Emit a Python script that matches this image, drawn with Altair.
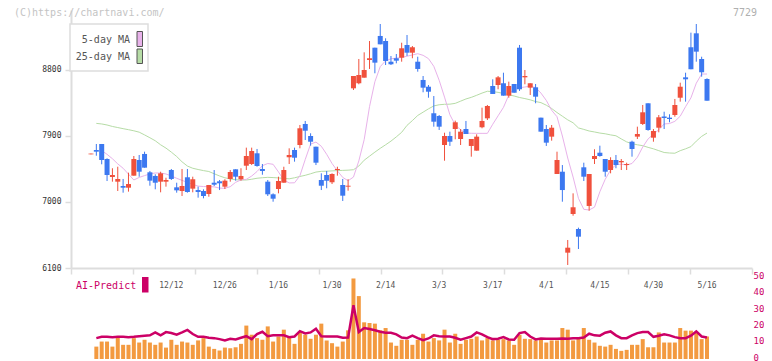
import altair as alt
import pandas as pd

# ---- candles (index 0..115) ----
opens = [7650, 7709, 7791, 7586, 7341, 7277, 7218, 7195, 7359, 7573,
         7655, 7405, 7355, 7277, 7277, 7436, 7200, 7150, 7337, 7182,
         7163, 7150, 7109, 7263, 7282, 7209, 7314, 7446, 7310, 7495,
         7518, 7664, 7450, 7277, 7105, 7177, 7263, 7610, 7709, 7777,
         8064, 7900, 7754, 7300, 7368, 7269, 7436, 7232, 7209, 8550,
         8619, 8695, 8936, 9104, 9264, 9195, 8913, 8960, 8968, 9141,
         9036, 8913, 8664, 8572, 8210, 8173, 7777, 7900, 7995, 7859,
         7995, 7764, 7700, 8019, 8141, 8582, 8595, 8619, 8450, 8609,
         9104, 8700, 8559, 8564, 8150, 7995, 7891, 7382, 7413, 6309,
         6836, 6632, 7473, 6946, 7586, 7672, 7586, 7436, 7573, 7541,
         7504, 7822, 7891, 8064, 8346, 7877, 8013, 8166, 8150, 8186,
         8422, 8700, 9110, 9300, 8950, 8677]
highs = [7660, 7791, 7791, 7596, 7460, 7481, 7314, 7400, 7627, 7641,
         7686, 7423, 7378, 7413, 7331, 7450, 7263, 7450, 7450, 7345,
         7209, 7173, 7232, 7436, 7300, 7310, 7436, 7446, 7460, 7741,
         7741, 7723, 7518, 7300, 7118, 7345, 7481, 7732, 7741, 8050,
         8105, 7937, 7754, 7391, 7423, 7391, 7481, 7314, 7310, 8718,
         8950, 9041, 9195, 9104, 9427, 9232, 8991, 9018, 9172, 9277,
         9127, 8981, 8718, 8595, 8445, 8186, 7945, 7959, 8109, 7995,
         8105, 7859, 7923, 8286, 8323, 8673, 8718, 8763, 8641, 8609,
         9141, 8800, 8619, 8609, 8150, 8050, 8050, 7686, 7504, 6482,
         7118, 6650, 7536, 7382, 7719, 7768, 7586, 7610, 7641, 7586,
         7536, 7836, 8027, 8323, 8346, 7995, 8186, 8231, 8196, 8405,
         8627, 8763, 9309, 9427, 8981, 8687]
lows = [7650, 7631, 7514, 7286, 7277, 7150, 7127, 7141, 7359, 7345,
        7468, 7222, 7173, 7132, 7209, 7300, 7127, 7082, 7127, 7132,
        7059, 7050, 7072, 7218, 7163, 7177, 7277, 7291, 7291, 7436,
        7504, 7481, 7372, 7082, 7004, 7118, 7263, 7518, 7550, 7732,
        7845, 7768, 7504, 7163, 7187, 7245, 7359, 7014, 7154, 8527,
        8605, 8695, 8814, 8755, 9150, 8868, 8868, 8891, 8913, 8991,
        8960, 8777, 8496, 8422, 8027, 7982, 7563, 7764, 7855, 7777,
        7927, 7618, 7700, 8005, 8118, 8473, 8537, 8450, 8422, 8490,
        8514, 8605, 8459, 8346, 7959, 7764, 7836, 7382, 7004, 6141,
        6813, 6359, 7286, 6881, 7518, 7618, 7345, 7391, 7460, 7436,
        7436, 7618, 7859, 8050, 7972, 7822, 7950, 7995, 8087, 8163,
        8368, 8368, 8810, 8913, 8709, 8381]
closes = [7660, 7686, 7573, 7368, 7368, 7314, 7195, 7245, 7586, 7413,
          7468, 7291, 7263, 7391, 7300, 7314, 7159, 7218, 7136, 7310,
          7136, 7082, 7232, 7236, 7255, 7291, 7409, 7345, 7355, 7627,
          7695, 7491, 7423, 7105, 7045, 7286, 7436, 7641, 7604, 8005,
          7972, 7822, 7536, 7222, 7291, 7382, 7450, 7086, 7222, 8718,
          8732, 8800, 8960, 8900, 9150, 8923, 8878, 8927, 9096, 9036,
          9110, 8814, 8559, 8504, 8095, 8027, 7900, 7822, 8087, 7959,
          7927, 7859, 7891, 8105, 8309, 8473, 8700, 8450, 8582, 8490,
          8537, 8718, 8619, 8436, 7959, 7809, 8013, 7573, 7163, 6377,
          6928, 6527, 7345, 7382, 7627, 7627, 7413, 7573, 7504, 7559,
          7518, 7723, 7927, 8223, 7982, 7968, 8155, 8145, 8132, 8323,
          8572, 8673, 8810, 9050, 8769, 8381]

# ---- moving averages ----
MA5_START = 2
ma5 = [7700, 7650, 7590, 7520, 7460, 7380, 7300, 7335, 7360, 7382,
       7396, 7395, 7382, 7355, 7323, 7295, 7268, 7240, 7216, 7211,
       7209, 7207, 7189, 7187, 7209, 7268, 7301, 7309, 7354, 7416,
       7495, 7525, 7514, 7410, 7300, 7260, 7262, 7358, 7580, 7790,
       7817, 7760, 7650, 7525, 7425, 7335, 7290, 7340, 7560, 7850,
       8300, 8640, 8846, 8925, 8952, 8962, 8971, 8988, 9005, 9022,
       9000, 8955, 8850, 8660, 8430, 8190, 8050, 7985, 7940, 7937,
       7936, 7936, 7936, 8060, 8175, 8290, 8459, 8550, 8558, 8568,
       8580, 8560, 8485, 8385, 8250, 8163, 7900, 7600, 7340, 7050,
       6900, 6891, 6930, 7140, 7310, 7436, 7510, 7515, 7505, 7525,
       7610, 7750, 7860, 7925, 7985, 8064, 8070, 8100, 8170, 8300,
       8420, 8620, 8745, 8745]
MA25_START = 1
ma25 = [8072, 8064, 8050, 8030, 8015, 8000, 7986, 7971, 7952, 7915,
        7876, 7835, 7780, 7735, 7680, 7620, 7548, 7490, 7460, 7443,
        7428, 7416, 7385, 7355, 7330, 7315, 7303, 7300, 7300, 7310,
        7324, 7331, 7336, 7333, 7328, 7322, 7316, 7330, 7348, 7364,
        7385, 7408, 7418, 7420, 7424, 7428, 7431, 7434, 7440, 7490,
        7570, 7625, 7680, 7732, 7780, 7830, 7888, 7950, 8045, 8110,
        8180, 8225, 8270, 8310, 8326, 8332, 8334, 8345, 8375, 8405,
        8427, 8455, 8485, 8510, 8505, 8495, 8480, 8462, 8445, 8425,
        8410, 8393, 8370, 8355, 8320, 8275, 8220, 8170, 8120, 8080,
        8010, 7990, 7968, 7955, 7940, 7930, 7915, 7903, 7860, 7820,
        7795, 7780, 7768, 7745, 7725, 7700, 7675, 7668, 7665, 7700,
        7725, 7755, 7830, 7895, 7940]

# ---- volume / AI-Predict (index 1..115) ----
LOWER_START = 1
volume = [7.6, 10.7, 10.7, 7.6, 13.8, 8.7, 8.7, 12.8, 10.1, 11.8,
          10.1, 8.7, 10.1, 7.0, 11.8, 8.7, 10.7, 10.1, 8.7, 11.4,
          12.8, 7.6, 6.2, 5.2, 7.0, 6.6, 7.2, 9.3, 20.5, 14.9,
          12.8, 11.8, 20.0, 10.7, 13.8, 18.0, 13.4, 9.3, 16.9, 14.9,
          12.4, 14.9, 21.7, 11.4, 9.7, 7.6, 10.7, 17.6, 49.4, 38.6,
          22.5, 22.1, 21.7, 17.6, 19.0, 10.1, 8.1, 11.8, 11.8, 8.7,
          11.8, 15.5, 10.7, 12.8, 11.4, 18.0, 10.1, 15.5, 9.3, 11.8,
          12.4, 13.8, 11.4, 12.8, 11.4, 11.8, 12.2, 11.4, 8.7, 14.9,
          12.4, 12.2, 11.4, 12.4, 10.1, 11.4, 11.4, 19.0, 18.0, 11.4,
          12.8, 19.0, 11.8, 10.1, 8.1, 7.6, 8.7, 6.2, 5.0, 5.6,
          8.7, 8.7, 12.2, 7.2, 7.2, 16.3, 10.1, 10.1, 10.1, 19.0,
          17.4, 17.4, 15.9, 12.2, 13.8]
ai_predict = [12.8, 13.6, 13.6, 13.4, 13.6, 13.6, 13.4, 13.6, 14.0, 14.3,
              14.5, 16.3, 14.5, 16.5, 15.9, 14.9, 16.3, 17.8, 15.3, 13.6,
              13.6, 13.0, 12.8, 12.2, 11.4, 12.4, 12.0, 13.0, 14.0, 12.2,
              15.3, 16.7, 14.0, 14.5, 14.5, 14.5, 13.4, 13.8, 17.1, 15.7,
              16.3, 18.6, 14.0, 13.8, 13.8, 13.8, 13.0, 13.2, 33.0, 16.5,
              19.0, 18.4, 17.6, 16.7, 16.1, 16.1, 15.1, 13.2, 12.8, 14.3,
              12.8, 11.6, 12.6, 14.5, 14.0, 13.8, 13.8, 13.0, 11.8, 12.8,
              13.8, 16.3, 15.1, 13.4, 12.2, 12.4, 13.4, 12.0, 11.8, 15.9,
              16.5, 13.8, 12.0, 12.6, 12.4, 12.4, 12.4, 12.6, 12.4, 12.8,
              12.8, 13.2, 15.5, 14.5, 14.3, 16.1, 16.9, 14.5, 12.8, 12.8,
              14.5, 15.9, 16.5, 16.5, 13.6, 14.3, 15.1, 14.5, 13.4, 12.8,
              12.8, 14.3, 16.9, 13.8, 13.2]

# ---- axis text ----
date_labels = ["12/12", "12/26", "1/16", "1/30", "2/14", "3/3",
               "3/17", "4/1", "4/15", "4/30", "5/16"]
date_label_index = [15, 25, 35, 45, 55, 65, 75, 85, 95, 105, 115]
price_ticks = [6100, 7000, 7900, 8800]
ai_ticks = [0, 10, 20, 30, 40, 50]

RED = "#f0503c"
BLUE = "#3c78f0"
MA5_COLOR = "#e8b2ea"
MA25_COLOR = "#b6dca6"
ORANGE = "#f39a40"
CRIMSON = "#cc0066"
MONO = "DejaVu Sans Mono"

n = len(opens)
candles = pd.DataFrame({"i": list(range(n)), "open": opens, "high": highs,
                        "low": lows, "close": closes})
candles["dir"] = ["up" if c >= o else "down" for o, c in zip(opens, closes)]
ma5_df = pd.DataFrame({"i": list(range(MA5_START, MA5_START + len(ma5))), "v": ma5})
ma25_df = pd.DataFrame({"i": list(range(MA25_START, MA25_START + len(ma25))), "v": ma25})
lower = pd.DataFrame({"i": list(range(LOWER_START, LOWER_START + len(volume))),
                      "vol": volume, "ai": ai_predict})
dates = pd.DataFrame({"i": date_label_index, "t": date_labels})

X_MIN, X_MAX = -3.73, 123.4
grid_ticks = [X_MIN + (X_MAX - X_MIN) * k / 11 for k in range(12)]
x_scale = alt.Scale(domain=[X_MIN, X_MAX], nice=False, zero=False, padding=0)
x_axis = alt.Axis(values=grid_ticks, labels=False, tickSize=6, tickColor="#dddddd",
                  tickWidth=1.5, domainColor="#dddddd", domainWidth=2, grid=False,
                  title=None)
x_enc = alt.X("i:Q", scale=x_scale, axis=x_axis)

p_scale = alt.Scale(domain=[6100, 9618], range=[258, 0], nice=False, zero=False, padding=0)
p_axis = alt.Axis(values=price_ticks, tickSize=6, tickColor="#dddddd", tickWidth=1.5,
                  domainColor="#dddddd", domainWidth=2, labelFont=MONO,
                  labelFontSize=8, labelColor="#333333", labelPadding=4,
                  grid=False, title=None, format="d")
color_enc = alt.Color("dir:N", scale=alt.Scale(domain=["up", "down"], range=[RED, BLUE]),
                      legend=None)

wicks = alt.Chart(candles).mark_rule(strokeWidth=1).encode(
    x=x_enc, y=alt.Y("low:Q", scale=p_scale, axis=p_axis), y2="high:Q", color=color_enc)
bodies = alt.Chart(candles).mark_bar(size=5).encode(
    x=x_enc, y=alt.Y("open:Q", scale=p_scale, axis=p_axis), y2="close:Q", color=color_enc)
ma25_line = alt.Chart(ma25_df).mark_line(strokeWidth=1, color=MA25_COLOR).encode(
    x=x_enc, y=alt.Y("v:Q", scale=p_scale, axis=p_axis))
ma5_line = alt.Chart(ma5_df).mark_line(strokeWidth=1, color=MA5_COLOR).encode(
    x=x_enc, y=alt.Y("v:Q", scale=p_scale, axis=p_axis))
price_group = alt.layer(ma25_line, ma5_line, wicks, bodies)

v_scale = alt.Scale(domain=[0, 50], range=[349, 267.5], nice=False, zero=True, padding=0)
v_axis = alt.Axis(orient="right", values=ai_ticks, domain=False, ticks=False,
                  labelFont=MONO, labelFontSize=9, labelColor=CRIMSON, labelPadding=1,
                  labelOffset=-2, grid=False, title=None)
vol_bars = alt.Chart(lower).mark_bar(size=4, color=ORANGE).encode(
    x=x_enc, y=alt.Y("vol:Q", scale=v_scale, axis=v_axis))
ai_line = alt.Chart(lower).mark_line(strokeWidth=2.5, color=CRIMSON).encode(
    x=x_enc, y=alt.Y("ai:Q", scale=v_scale, axis=v_axis))
vol_group = alt.layer(vol_bars, ai_line)

one = pd.DataFrame({"k": [0]})


def label(text, x, y, color, size, align="left"):
    return alt.Chart(pd.DataFrame({"t": [text]})).mark_text(
        font=MONO, fontSize=size, color=color, align=align, baseline="middle").encode(
        x=alt.value(x), y=alt.value(y), text="t:N")


def box(x, x2, y, y2, fill, stroke, sw=1):
    return alt.Chart(one).mark_rect(fill=fill, stroke=stroke, strokeWidth=sw).encode(
        x=alt.value(x), x2=alt.value(x2), y=alt.value(y), y2=alt.value(y2))


date_text = alt.Chart(dates).mark_text(font=MONO, fontSize=8, color="#555555",
                                       baseline="middle").encode(
    x=x_enc, y=alt.value(275.5), text="t:N")

decor = [
    box(-1, 77, 14, 61, "white", "#dddddd", 1.5),
    label("5-day MA", 59, 30, "#555555", 10, "right"),
    box(66, 71.5, 21.5, 36.5, MA5_COLOR, "#555555", 1),
    label("25-day MA", 59, 47, "#555555", 10, "right"),
    box(66, 71.5, 39, 53.5, MA25_COLOR, "#555555", 1),
    label("(C)https://chartnavi.com/", -57, 2.5, "#c4c4c4", 10),
    label("7729", 686, 2.5, "#b0b0b0", 10, "right"),
    label("AI-Predict", 5, 276, CRIMSON, 10),
    box(71, 77.5, 267, 282.5, CRIMSON, CRIMSON, 0),
    date_text,
]

chart = alt.layer(price_group, vol_group, *decor).resolve_scale(
    y="independent").properties(
    width=681, height=258,
    autosize=alt.AutoSizeParams(type="none"),
    padding={"left": 63, "top": 2, "right": 12, "bottom": 93},
    background="white",
).configure_view(stroke=None)

chart.save("out.html", embed_options={"renderer": "svg", "actions": False})
